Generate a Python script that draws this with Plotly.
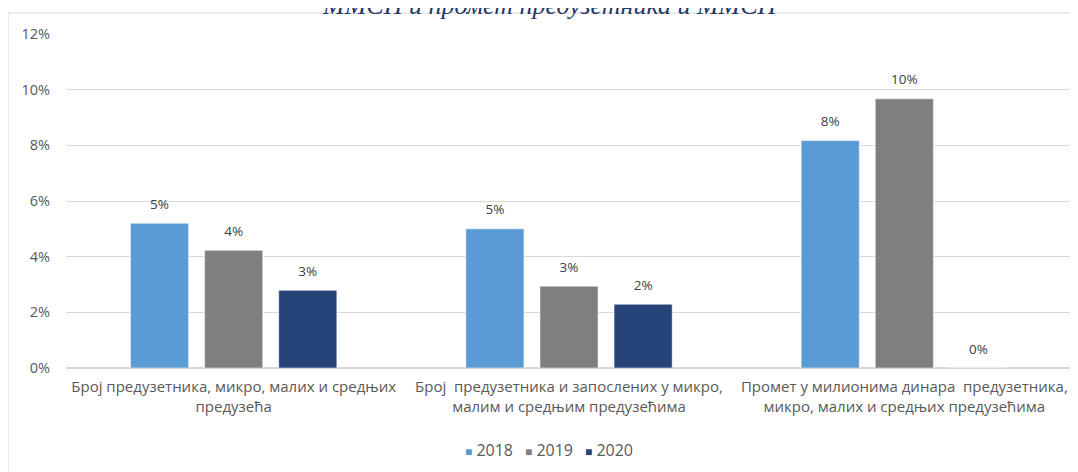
import plotly.graph_objects as go

categories = [
    "Број предузетника, микро, малих и средњих<br>предузећа",
    "Број  предузетника и запослених у микро,<br>малим и средњим предузећима",
    "Промет у милионима динара  предузетника,<br>микро, малих и средњих предузећима",
]
years = ["2018", "2019", "2020"]
values_2018 = [0.052, 0.050, 0.0817]
values_2019 = [0.0423, 0.0294, 0.0967]
values_2020 = [0.0279, 0.0229, 0.0]
series = [values_2018, values_2019, values_2020]
colors = ["#5B9BD5", "#7F7F7F", "#264478"]
y_ticks = [0, 0.02, 0.04, 0.06, 0.08, 0.10, 0.12]
title_text = "ММСП и промет предузетника и ММСП"

# page body has an 8px margin; work in page pixels and convert
OFF = 8
W, H = 1078 - OFF, 472 - OFF
PL, PR, PT, PB = 66, 1072, 34, 369          # plot area in page pixels
L, R, T, B = PL - OFF, W - (PR - OFF), PT - OFF, H - (PB - OFF)
pw, ph = PR - PL, PB - PT

def px(x):
    return (x - PL) / pw

def py(y):
    return (PB - y) / ph

FONT = "Open Sans"
GAP, GROUPGAP = 0.337, 0.216

fig = go.Figure()
for name, vals, col in zip(years, series, colors):
    fig.add_trace(go.Bar(
        x=categories, y=vals, name=name, showlegend=False,
        marker=dict(color=col, line=dict(color="rgba(255,255,255,0.5)", width=1)),
        hoverinfo="skip",
    ))
# value labels, grouped like the bars
for name, vals in zip(years, series):
    fig.add_trace(go.Scatter(
        x=categories, y=vals, name=name, showlegend=False, mode="markers+text",
        marker=dict(size=16, opacity=0), texttemplate="%{y:.0%}", textposition="top center",
        textfont=dict(family=FONT, size=13.5, color="#404040"), cliponaxis=False,
    ))
# legend entries (on a hidden overlay axis so they do not join the groups)
for name, col in zip(years + [""], colors + ["white"]):
    label = "<span style='color:%s;font-size:12px'>■</span>&nbsp;%s" % (col, name) if name else " "
    fig.add_trace(go.Scatter(
        x=[None], y=[None], xaxis="x2", yaxis="y2", mode="markers",
        name=label,
        marker=dict(size=1, opacity=0, color="rgba(0,0,0,0)", line=dict(width=0)),
    ))

fig.update_layout(
    width=W, height=H,
    margin=dict(l=L, r=R, t=T, b=B, pad=0),
    paper_bgcolor="white", plot_bgcolor="white",
    barmode="group", bargap=GAP, bargroupgap=GROUPGAP,
    scattermode="group", scattergap=GAP,
    font=dict(family=FONT, size=13, color="#595959"),
    showlegend=True,
    legend=dict(orientation="h", x=px(425), xanchor="left", y=py(450), yanchor="middle",
                font=dict(family=FONT, size=16, color="#595959"), itemwidth=30,
                entrywidth=15, tracegroupgap=0),
    xaxis=dict(showgrid=False, showline=False, ticks="", ticklabelstandoff=8,
               tickfont=dict(family=FONT, size=15, color="#595959")),
    yaxis=dict(range=[0, 0.12], tickvals=y_ticks, tickformat=".0%", showline=False,
               gridcolor="#D9D9D9", gridwidth=1, zeroline=True, zerolinecolor="#D9D9D9",
               ticks="", ticklabelstandoff=15, tickfont=dict(family=FONT, size=14.5, color="#595959")),
    xaxis2=dict(overlaying="x", visible=False),
    yaxis2=dict(overlaying="y", visible=False),
    shapes=[dict(type="rect", xref="paper", yref="paper",
                 x0=px(8), x1=px(1090), y0=py(490), y1=py(13),
                 line=dict(color="#D9D9D9", width=1), fillcolor="rgba(0,0,0,0)", layer="below")],
    annotations=[dict(text="<i>" + title_text + "</i>", xref="paper", yref="paper",
                      x=px(550), y=py(21.5), xanchor="center", yanchor="bottom", showarrow=False,
                      font=dict(family="Liberation Serif", size=26, color="#1F3864"))],
)

fig.write_html("out.html")
